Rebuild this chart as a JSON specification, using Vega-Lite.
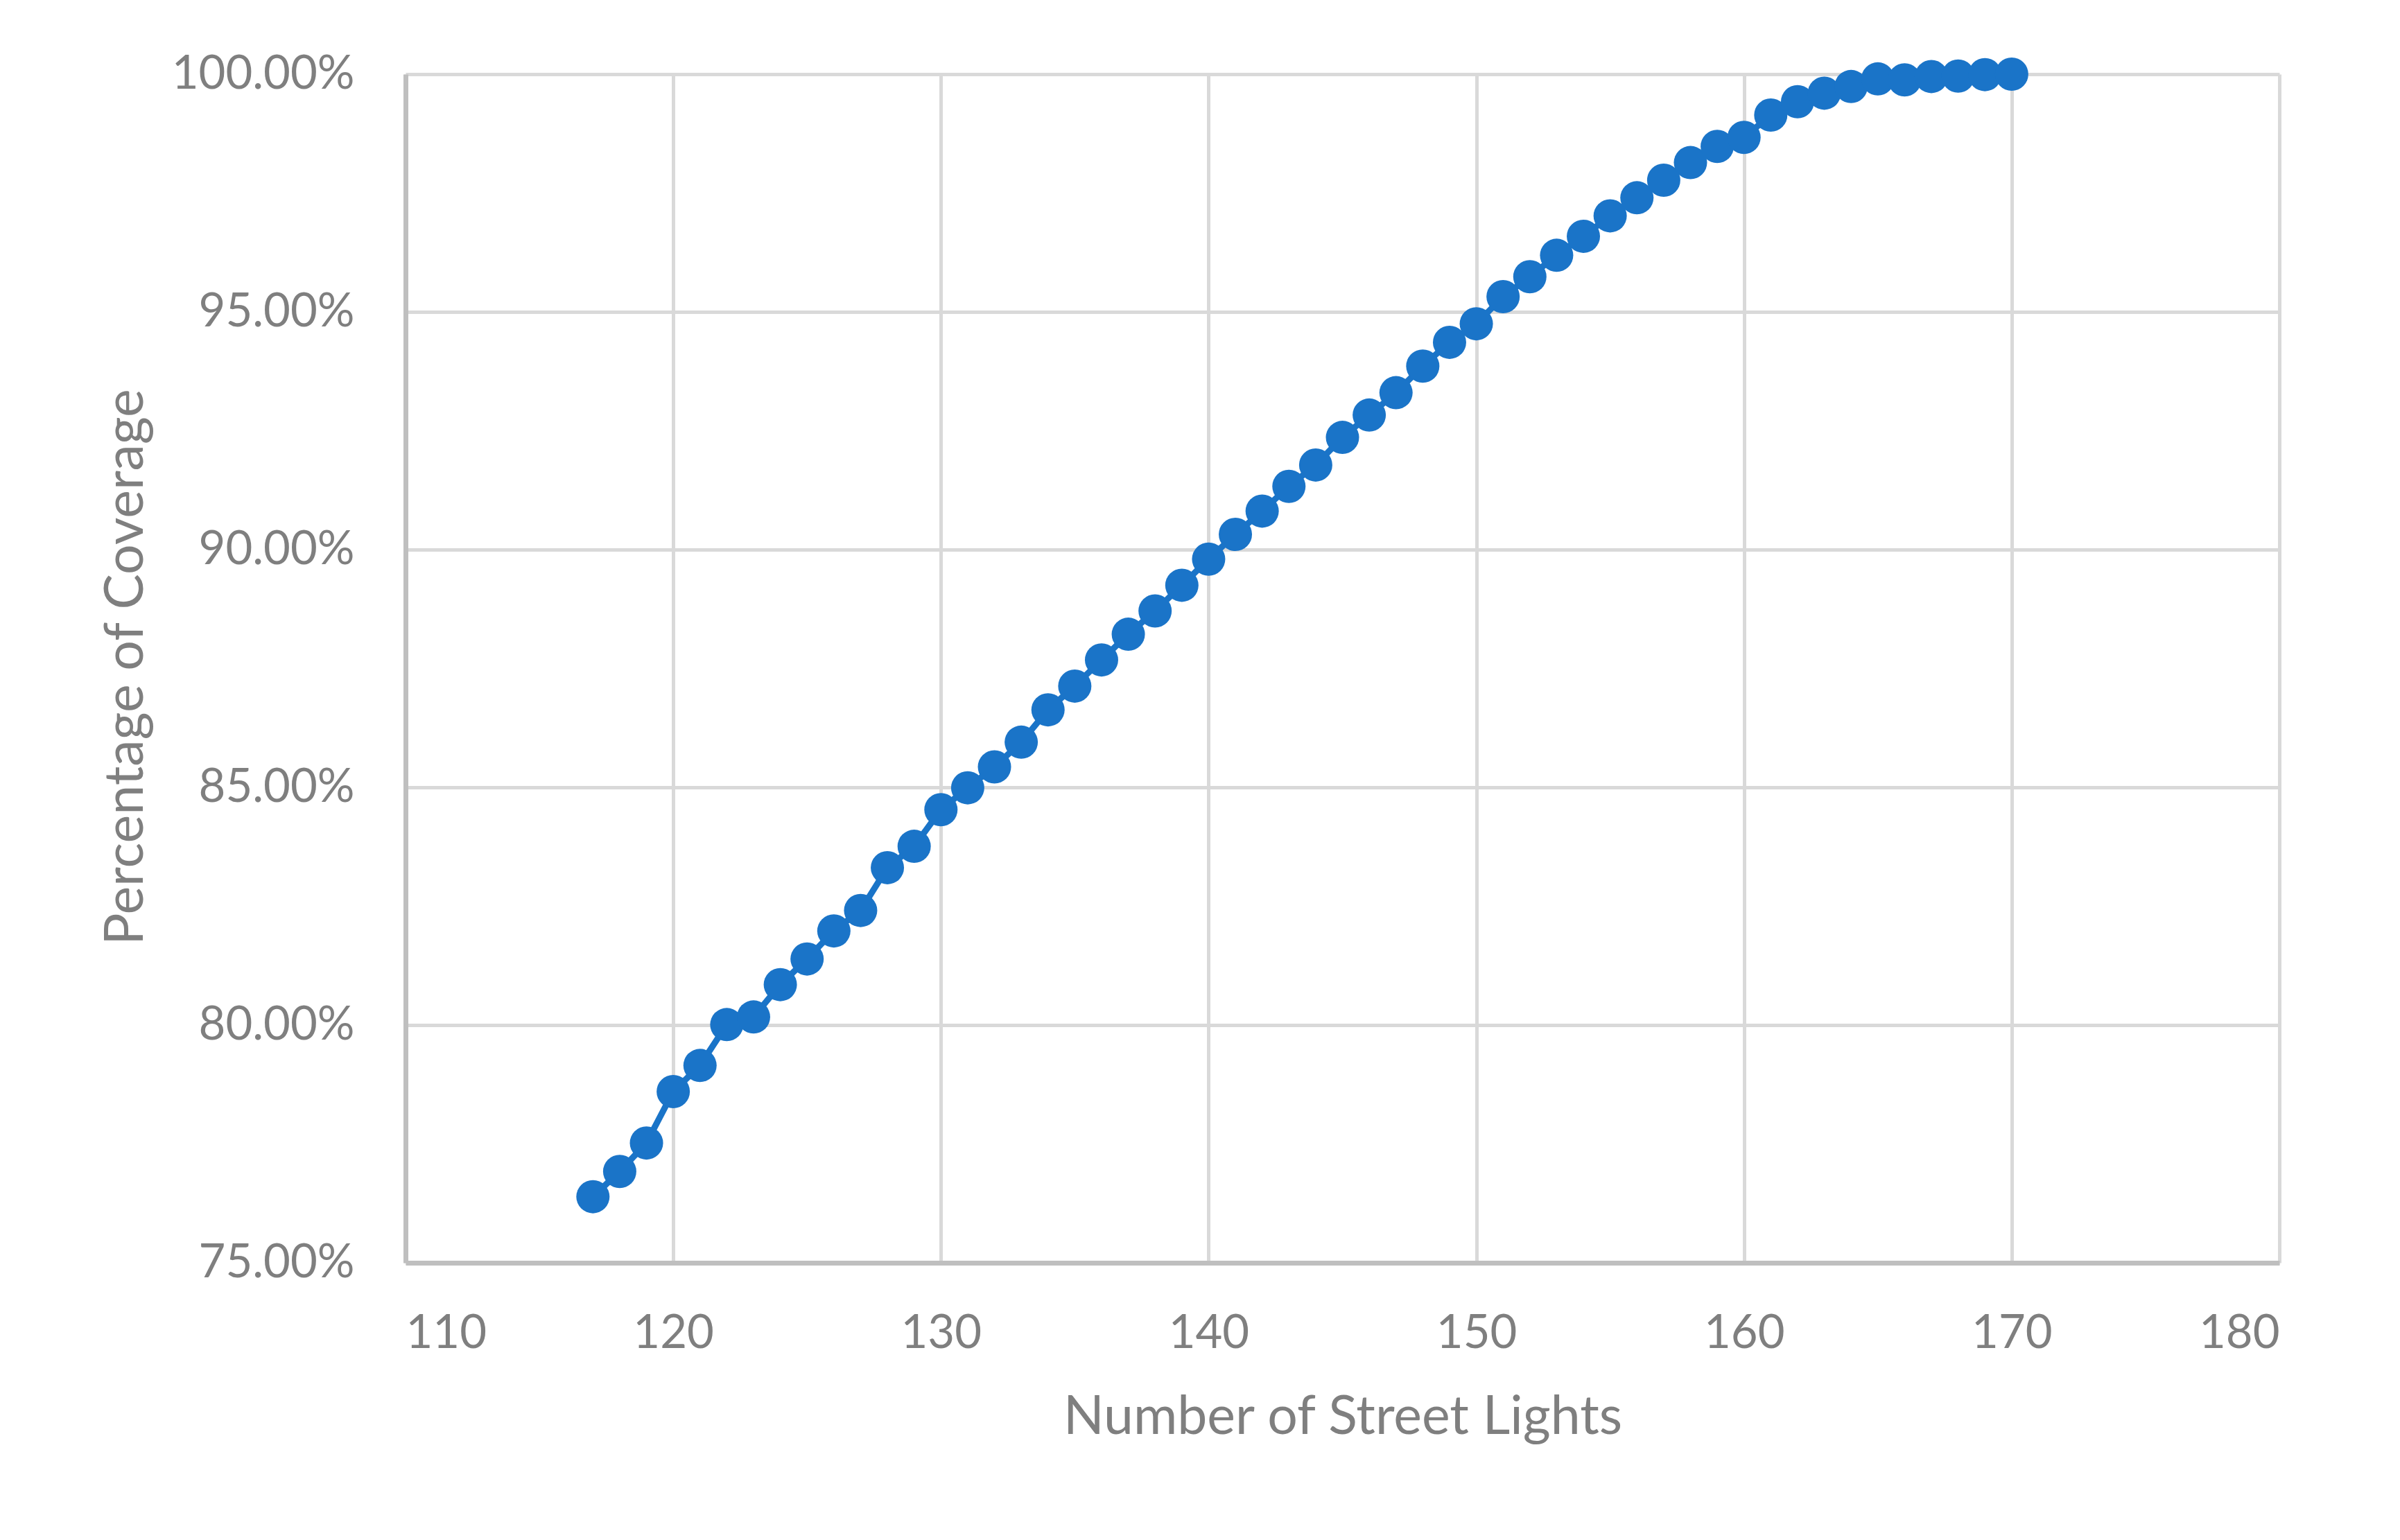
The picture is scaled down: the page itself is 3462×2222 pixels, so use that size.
{
  "$schema": "https://vega.github.io/schema/vega-lite/v6.json",
  "autosize": {"type": "none"},
  "width": 2703,
  "height": 1715,
  "padding": {"left": 585, "top": 107, "right": 174, "bottom": 400},
  "background": "white",
  "config": {
    "view": {"stroke": null},
    "font": "Lato",
    "axis": {
      "labelFont": "Lato",
      "titleFont": "Lato",
      "labelFontSize": 67,
      "titleFontSize": 77,
      "titleFontWeight": "normal",
      "labelColor": "#7f7f7f",
      "titleColor": "#7f7f7f",
      "labelLimit": 0,
      "titleLimit": 0,
      "gridColor": "#d9d9d9",
      "gridWidth": 5,
      "domainColor": "#bfbfbf",
      "domainWidth": 7,
      "ticks": false
    }
  },
  "data": {
    "values": [
      {"lights": 117, "coverage": 0.7639},
      {"lights": 118, "coverage": 0.7692},
      {"lights": 119, "coverage": 0.7752},
      {"lights": 120, "coverage": 0.7860},
      {"lights": 121, "coverage": 0.7915},
      {"lights": 122, "coverage": 0.8001},
      {"lights": 123, "coverage": 0.8017},
      {"lights": 124, "coverage": 0.8085},
      {"lights": 125, "coverage": 0.8139},
      {"lights": 126, "coverage": 0.8198},
      {"lights": 127, "coverage": 0.8241},
      {"lights": 128, "coverage": 0.8331},
      {"lights": 129, "coverage": 0.8376},
      {"lights": 130, "coverage": 0.8453},
      {"lights": 131, "coverage": 0.8499},
      {"lights": 132, "coverage": 0.8543},
      {"lights": 133, "coverage": 0.8595},
      {"lights": 134, "coverage": 0.8663},
      {"lights": 135, "coverage": 0.8713},
      {"lights": 136, "coverage": 0.8768},
      {"lights": 137, "coverage": 0.8822},
      {"lights": 138, "coverage": 0.8871},
      {"lights": 139, "coverage": 0.8925},
      {"lights": 140, "coverage": 0.8980},
      {"lights": 141, "coverage": 0.9032},
      {"lights": 142, "coverage": 0.9081},
      {"lights": 143, "coverage": 0.9133},
      {"lights": 144, "coverage": 0.9178},
      {"lights": 145, "coverage": 0.9236},
      {"lights": 146, "coverage": 0.9283},
      {"lights": 147, "coverage": 0.9330},
      {"lights": 148, "coverage": 0.9386},
      {"lights": 149, "coverage": 0.9436},
      {"lights": 150, "coverage": 0.9475},
      {"lights": 151, "coverage": 0.9532},
      {"lights": 152, "coverage": 0.9574},
      {"lights": 153, "coverage": 0.9619},
      {"lights": 154, "coverage": 0.9659},
      {"lights": 155, "coverage": 0.9702},
      {"lights": 156, "coverage": 0.9740},
      {"lights": 157, "coverage": 0.9777},
      {"lights": 158, "coverage": 0.9814},
      {"lights": 159, "coverage": 0.9848},
      {"lights": 160, "coverage": 0.9867},
      {"lights": 161, "coverage": 0.9914},
      {"lights": 162, "coverage": 0.9942},
      {"lights": 163, "coverage": 0.9960},
      {"lights": 164, "coverage": 0.9974},
      {"lights": 165, "coverage": 0.9990},
      {"lights": 166, "coverage": 0.9988},
      {"lights": 167, "coverage": 0.9995},
      {"lights": 168, "coverage": 0.9996},
      {"lights": 169, "coverage": 0.9999},
      {"lights": 170, "coverage": 1.0}
    ]
  },
  "encoding": {
    "x": {
      "field": "lights",
      "type": "quantitative",
      "scale": {"domain": [110, 180], "nice": false, "zero": false},
      "axis": {
        "title": "Number of Street Lights",
        "values": [110, 120, 130, 140, 150, 160, 170, 180],
        "labelPadding": 69,
        "titleBaseline": "alphabetic",
        "titleY": 246,
        "titleX": 1351.5
      }
    },
    "y": {
      "field": "coverage",
      "type": "quantitative",
      "scale": {"domain": [0.75, 1.0], "nice": false, "zero": false},
      "axis": {
        "title": "Percentage of Coverage",
        "values": [0.75, 0.8, 0.85, 0.9, 0.95, 1.0],
        "format": ".2%",
        "labelPadding": 74,
        "titleAngle": -90,
        "titleBaseline": "alphabetic",
        "titleX": -380,
        "titleY": 855
      }
    }
  },
  "layer": [
    {"mark": {"type": "line", "color": "#1a74c8", "strokeWidth": 9}},
    {"mark": {"type": "point", "filled": true, "shape": "circle", "size": 2304, "color": "#1a74c8", "opacity": 1}}
  ]
}
